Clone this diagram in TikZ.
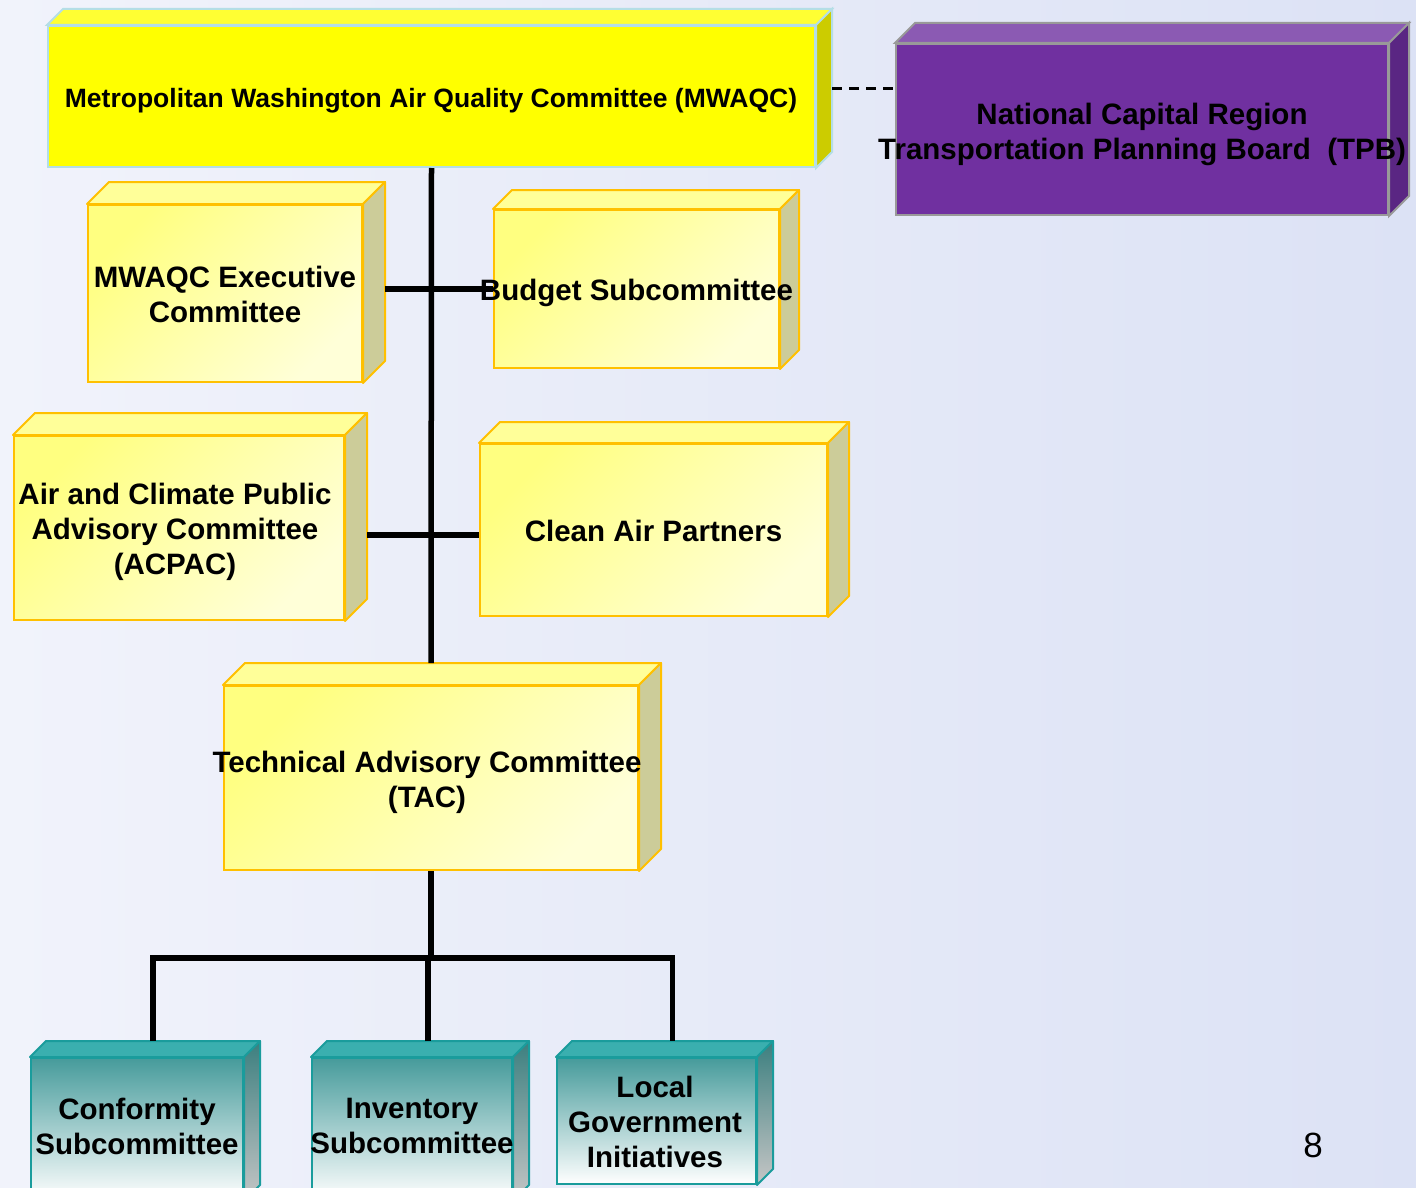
\documentclass[tikz,border=0pt]{standalone}
\usepackage{fontspec}
\setmainfont{Liberation Sans}

\definecolor{bgl}{HTML}{F1F3FB}
\definecolor{bgr}{HTML}{DCE2F5}
\definecolor{ygold}{HTML}{FFC000}
\definecolor{yfa}{HTML}{FFFF80}
\definecolor{yfb}{HTML}{FFFFD8}
\definecolor{ytopc}{HTML}{FFFF99}
\definecolor{ysidec}{HTML}{CCCC99}
\definecolor{mfront}{HTML}{FFFF00}
\definecolor{mtopc}{HTML}{FFFF33}
\definecolor{msidec}{HTML}{CCCC00}
\definecolor{mline}{HTML}{B4DEE6}
\definecolor{pfront}{HTML}{7030A0}
\definecolor{ptopc}{HTML}{8B5AB3}
\definecolor{psidec}{HTML}{5A2683}
\definecolor{pline}{HTML}{999999}
\definecolor{tfront}{HTML}{469B9B}
\definecolor{ttopc}{HTML}{3AAFAF}
\definecolor{tsidea}{HTML}{3B7F7F}
\definecolor{tsideb}{HTML}{C6C6C6}
\definecolor{tline}{HTML}{1A9C9C}

\begin{document}
\begin{tikzpicture}[x=1pt,y=-1pt,
  ybox/.style={draw=ygold, line width=2pt, top color=yfa, bottom color=yfb, shading angle=45, inner sep=0pt},
  ytop/.style={draw=ygold, line width=2pt, fill=ytopc, line join=round},
  yside/.style={draw=ygold, line width=2pt, fill=ysidec, line join=round},
  tbox/.style={draw=tline, line width=2pt, top color=tfront, bottom color=white, inner sep=0pt},
  ttop/.style={draw=tline, line width=2pt, fill=ttopc, line join=round},
  tside/.style={draw=tline, line width=2pt, top color=tsidea, bottom color=tsideb, line join=round},
  conn/.style={line width=5.5pt},
  tie/.style={line width=3pt, dash pattern=on 10pt off 7pt},
  lbl/.style={font=\fontsize{29.5}{35}\selectfont\bfseries, align=center, inner sep=0pt}]

\clip (0,0) rectangle (1416,1188);
\fill[left color=bgl, right color=bgr] (0,0) rectangle (1416,1188);

% top row
\node[draw=mline, line width=2pt, fill=mfront, inner sep=0pt, minimum width=767pt, minimum height=141pt] (mwaqc) at (431.5,96.5) {};
\filldraw[draw=mline, line width=2pt, fill=mtopc] (mwaqc.north west) -- ++(16pt,16pt) -- ([shift={(16pt,16pt)}]mwaqc.north east) -- (mwaqc.north east) -- cycle;
\filldraw[draw=mline, line width=2pt, fill=msidec] (mwaqc.north east) -- ++(16pt,16pt) -- ([shift={(16pt,16pt)}]mwaqc.south east) -- (mwaqc.south east) -- cycle;

\node[draw=pline, line width=2pt, fill=pfront, inner sep=0pt, minimum width=492pt, minimum height=171pt] (tpb) at (1142,129.5) {};
\filldraw[draw=pline, line width=2pt, fill=ptopc] (tpb.north west) -- ++(20pt,20pt) -- ([shift={(20pt,20pt)}]tpb.north east) -- (tpb.north east) -- cycle;
\filldraw[draw=pline, line width=2pt, fill=psidec] (tpb.north east) -- ++(20pt,20pt) -- ([shift={(20pt,20pt)}]tpb.south east) -- (tpb.south east) -- cycle;

% yellow committees
\node[ybox, minimum width=274pt, minimum height=177pt] (exec) at (225,293.5) {};
\node[ybox, minimum width=285pt, minimum height=158pt] (budget) at (636.5,289) {};
\node[ybox, minimum width=330pt, minimum height=184pt] (acpac) at (179,528) {};
\node[ybox, minimum width=347pt, minimum height=172pt] (clean) at (653.5,530) {};
\node[ybox, minimum width=414pt, minimum height=184pt] (tac) at (431,778) {};

\foreach \b/\d in {exec/22,budget/19,acpac/22,clean/21,tac/22}{
  \filldraw[ytop] (\b.north west) -- ++(\d pt,\d pt) -- ([shift={(\d pt,\d pt)}]\b.north east) -- (\b.north east) -- cycle;
  \filldraw[yside] (\b.north east) -- ++(\d pt,\d pt) -- ([shift={(\d pt,\d pt)}]\b.south east) -- (\b.south east) -- cycle;
}

% teal subcommittees
\node[tbox, minimum width=212pt, minimum height=142pt] (conf) at (137,1129) {};
\node[tbox, minimum width=200pt, minimum height=142pt] (inv) at (412,1129) {};
\node[tbox, minimum width=199pt, minimum height=126pt] (local) at (656.5,1121) {};

\foreach \b in {conf,inv,local}{
  \filldraw[ttop] (\b.north west) -- ++(16pt,16pt) -- ([shift={(16pt,16pt)}]\b.north east) -- (\b.north east) -- cycle;
  \filldraw[tside] (\b.north east) -- ++(16pt,16pt) -- ([shift={(16pt,16pt)}]\b.south east) -- (\b.south east) -- cycle;
}

% lines
\draw[tie] ([shift={(16pt,7.5pt)}]mwaqc.east) -- ([yshift=40.5pt]tpb.west);
\draw[conn] (mwaqc.south) -- ([yshift=22pt]tac.north);
\draw[conn] ([shift={(22pt,4.5pt)}]exec.east) -- (budget.west);
\draw[conn] ([shift={(22pt,-7pt)}]acpac.east) -- ([yshift=-5pt]clean.west);
\draw[conn] (tac.south) -- ++(0,87) coordinate (fork);
\draw[conn] ([shift={(16pt,16pt)}]conf.north) |- (fork) -| ([shift={(16pt,16pt)}]local.north);
\draw[conn] ([shift={(16pt,16pt)}]inv.north) |- (fork);

% texts
\node[lbl, font=\fontsize{26.5}{32}\selectfont\bfseries] (mwaqc-t) at (431,101) {Metropolitan Washington Air Quality Committee (MWAQC)};
\node[lbl] (tpb-t) at (1142,134.5) {National Capital Region\\Transportation Planning Board\ \ (TPB)};
\node[lbl] (exec-t) at (225,294.5) {MWAQC Executive\\Committee};
\node[lbl] (budget-t) at (636.5,293) {Budget Subcommittee};
\node[lbl] (acpac-t) at (175,532) {Air and Climate Public\\Advisory Committee\\(ACPAC)};
\node[lbl] (clean-t) at (653.5,531) {Clean Air Partners};
\node[lbl] (tac-t) at (427,782.5) {Technical Advisory Committee\\(TAC)};
\node[lbl] (conf-t) at (137,1126.5) {Conformity\\Subcommittee};
\node[lbl] (inv-t) at (412,1126) {Inventory\\Subcommittee};
\node[lbl] (local-t) at (655,1122) {Local\\Government\\Initiatives};

\node[font=\fontsize{35}{40}\selectfont, inner sep=0pt] (pgno) at (1313,1145) {8};
\end{tikzpicture}
\end{document}
